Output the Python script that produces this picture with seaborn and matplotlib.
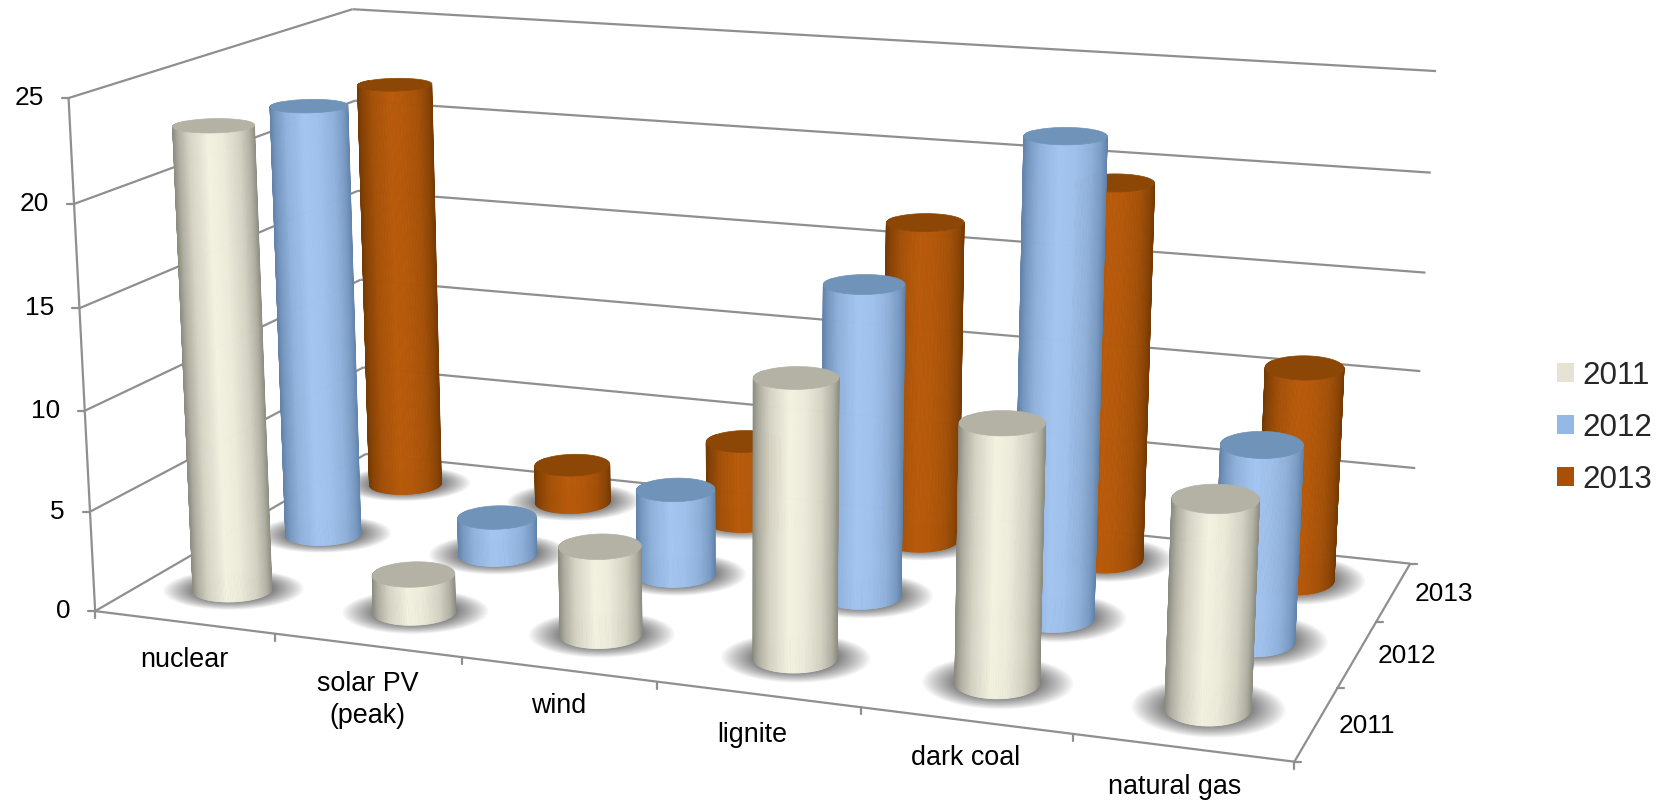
import numpy as np
import pandas as pd
import matplotlib
matplotlib.use("Agg")
import matplotlib.pyplot as plt
from matplotlib.collections import PolyCollection
from matplotlib.patches import Patch, Polygon
import seaborn as sns

categories = ["nuclear", "solar PV\n(peak)", "wind", "lignite", "dark coal", "natural gas"]
years = ["2011", "2012", "2013"]
values_2011 = [23.1, 1.9, 4.35, 13.4, 12.2, 9.7]
values_2012 = [22.4, 1.95, 4.4, 15.6, 23.4, 9.55]
values_2013 = [21.9, 2.05, 4.3, 16.65, 19.35, 10.85]
z_ticks = [0, 5, 10, 15, 20, 25]

capacity = pd.DataFrame({"2011": values_2011, "2012": values_2012, "2013": values_2013},
                        index=categories)

sns.set_theme(style="white")
plt.rcParams["font.family"] = ["Liberation Sans", "DejaVu Sans"]

light = sns.color_palette(["#f3f1e0", "#a3c5f0", "#b85a0a"])
dark = sns.color_palette(["#85857a", "#5e7ea5", "#6f3803"])
caps = sns.color_palette(["#b4b2a5", "#7093b9", "#8c4706"])
swatches = sns.color_palette(["#e6e3d5", "#95b9e6", "#aa5006"])
GRID = "#8f8f8f"

# Camera: box corners and tick positions on the canvas, solved into a 3x4 projection.
camera_world = np.array([
    (0, 0, 0), (0, 0, 5), (0, 0, 10), (0, 0, 15), (0, 0, 20), (0, 0, 25),
    (1, 0, 0), (2, 0, 0), (3, 0, 0), (4, 0, 0), (5, 0, 0), (6, 0, 0),
    (6, 1, 0), (6, 2, 0), (6, 3, 0),
    (6, 3, 5), (6, 3, 10), (6, 3, 15), (6, 3, 20), (6, 3, 25),
    (0, 3, 0), (0, 3, 25)], float)
camera_canvas = np.array([
    (96, 611), (90, 511), (84, 410), (80, 308), (74, 204), (69, 98),
    (275, 635), (462, 657), (657, 683), (860, 708), (1072, 735), (1295, 760),
    (1338, 687), (1376, 622), (1410, 563),
    (1415, 468), (1421, 372), (1425, 273), (1431, 173), (1436, 71),
    (366, 454), (352, 9)], float)


def solve_camera(world, canvas):
    rows, rhs = [], []
    for (x, y, z), (u, v) in zip(world, canvas):
        rows.append([x, y, z, 1, 0, 0, 0, 0, -u * x, -u * y, -u * z])
        rows.append([0, 0, 0, 0, x, y, z, 1, -v * x, -v * y, -v * z])
        rhs += [u, v]
    sol = np.linalg.lstsq(np.array(rows), np.array(rhs), rcond=None)[0]
    return np.append(sol, 1).reshape(3, 4)


P = solve_camera(camera_world, camera_canvas)


def project(x, y, z):
    x, y, z = np.broadcast_arrays(x, y, z)
    h = P @ np.stack([x, y, z, np.ones_like(x, dtype=float)])
    return np.stack([h[0] / h[2], h[1] / h[2]], axis=-1)


fig = plt.figure(figsize=(16.62, 8.01), dpi=100, facecolor="white")
ax = fig.add_axes([0, 0, 1, 1])
ax.set_xlim(0, 1662)
ax.set_ylim(801, 0)
ax.axis("off")


def seg(a, b, lw=1.6, z=1):
    pts = project(np.array([a[0], b[0]], float), np.array([a[1], b[1]], float),
                  np.array([a[2], b[2]], float))
    ax.plot(pts[:, 0], pts[:, 1], color=GRID, lw=lw, zorder=z, solid_capstyle="butt")
    return pts


# Walls
for v in z_ticks:
    seg((0, 0, v), (0, 3, v))
    seg((0, 3, v), (6, 3, v))
    p = project(0.0, 0.0, float(v))
    ax.plot([p[0] - 7, p[0]], [p[1], p[1]], color=GRID, lw=1.6, zorder=1)
    ax.annotate(str(v), p, xytext=(-18, 0), textcoords="offset points",
                ha="right", va="center", fontsize=18.9, color="black")
seg((0, 0, 0), (0, 0, 25))
seg((0, 0, 0), (6, 0, 0))
seg((6, 0, 0), (6, 3, 0))

# Category ticks and labels along the front edge; labels sit a little off the tick midpoints
label_shift = [(0, 4), (0, 5), (0, 3), (-6, 7), (0, 4), (-8, 6)]
for i in range(len(categories) + 1):
    p = project(float(i), 0.0, 0.0)
    ax.plot([p[0], p[0]], [p[1], p[1] + 7], color=GRID, lw=1.6, zorder=1)
for i, name in enumerate(categories):
    p = project(i + 0.5, 0.0, 0.0)
    dx, dy = label_shift[i]
    ax.annotate(name, p, xytext=(dx * 0.72, -15 - dy * 0.72), textcoords="offset points",
                ha="center", va="top", fontsize=19.4, color="black", linespacing=1.3)

# Year ticks and labels along the right edge
for j in range(len(years) + 1):
    p = project(6.0, float(j), 0.0)
    ax.plot([p[0], p[0] + 7], [p[1], p[1]], color=GRID, lw=1.6, zorder=1)
for j, name in enumerate(years):
    p = project(6.0, j + 0.5, 0.0)
    ax.annotate(name, p, xytext=(36, -1.5), textcoords="offset points",
                ha="center", va="center", fontsize=18.9, color="black")

# Cylinder radii per column, in category units and as a factor on the level depth radius
column_radius = [0.2, 0.203, 0.198, 0.198, 0.195, 0.193]
depth_factor = [1.16, 1.14, 1.1, 1.04, 1.0, 0.95]
DEPTH_SHIFT = 0.03
column_shift = [-0.02, -0.005, -0.005, -0.005, -0.005, -0.005]
angles = np.linspace(np.pi - 0.35, 2 * np.pi + 0.35, 91)
circle = np.linspace(0, 2 * np.pi, 121)
shade_t = [0, 0.07, 0.2, 0.42, 0.6, 0.8, 0.93, 1]
shade_v = [0.05, 0.38, 0.72, 1.0, 0.94, 0.72, 0.4, 0.05]


def level_radius(cx, cy, rx, factor):
    # Depth radius that keeps the floor ellipse close to level on the canvas at this spot
    o = project(cx, cy, 0.0)
    ex = project(cx + 0.05, cy, 0.0) - o
    ey = project(cx, cy + 0.05, 0.0) - o
    return factor * rx * np.sqrt(abs(ex[0] * ex[1]) / abs(ey[0] * ey[1]))


def draw_shadow(cx, cy, rx, factor):
    # Soft contact shadow built from stacked translucent rings on the floor
    ry = level_radius(cx, cy, rx, factor)
    for f in np.linspace(1, 0, 26) ** 1.4:
        sx = 0.95 + 0.85 * f
        sy = 0.95 + 0.72 * f
        pts = project(cx + rx * sx * np.cos(circle), cy + 0.01 + ry * sy * np.sin(circle), 0.0)
        ax.add_patch(Polygon(pts, closed=True, fc="#333333", ec="none", alpha=0.04, zorder=2))


def draw_cylinder(cx, cy, value, rx, factor, idx, order):
    ry = level_radius(cx, cy, rx, factor)
    xs = cx + rx * np.cos(angles)
    ys = cy + ry * np.sin(angles)
    top = project(xs, ys, float(value))
    bot = project(xs, ys, 0.0)
    tc = project(cx + rx * np.cos(circle), cy + ry * np.sin(circle), float(value))
    bc = project(cx + rx * np.cos(circle), cy + ry * np.sin(circle), 0.0)
    t_top = (top[:, 0] - tc[:, 0].min()) / np.ptp(tc[:, 0])
    t_bot = (bot[:, 0] - bc[:, 0].min()) / np.ptp(bc[:, 0])
    t = np.clip((t_top + t_bot) / 2, 0, 1)
    polys, cols = [], []
    mid = 1.5 * np.pi
    lo, hi = np.array(dark[idx]), np.array(light[idx])
    sequence = sorted(range(len(angles) - 1), key=lambda k: -abs(angles[k] - mid))
    for k in sequence:
        polys.append([top[k], top[k + 1], bot[k + 1], bot[k]])
        v = np.interp((t[k] + t[k + 1]) / 2, shade_t, shade_v)
        cols.append(lo + (hi - lo) * v)
    ax.add_collection(PolyCollection(polys, facecolors=cols, edgecolors=cols, linewidths=0.6,
                                     zorder=order))
    ax.add_patch(Polygon(tc, closed=True, fc=caps[idx], ec=caps[idx], lw=0.5, zorder=order + 0.1))


for j in range(len(years)):
    for i in range(len(categories)):
        draw_shadow(i + 0.5 + column_shift[i], j + 0.5 + DEPTH_SHIFT,
                    column_radius[i], depth_factor[i])

for j in reversed(range(len(years))):
    for i, name in enumerate(capacity.index):
        draw_cylinder(i + 0.5 + column_shift[i], j + 0.5 + DEPTH_SHIFT,
                      capacity.loc[name, years[j]], column_radius[i], depth_factor[i],
                      j, 5 + (2 - j) * 2)

handles = [Patch(facecolor=swatches[k], edgecolor="none", label=years[k]) for k in range(3)]
ax.legend(handles=handles, loc="center left", bbox_to_anchor=(1557, 428),
          bbox_transform=ax.transData, frameon=False, fontsize=22.6, borderpad=0,
          borderaxespad=0, handlelength=0.55, handleheight=0.55, handletextpad=0.26,
          labelspacing=0.7)

fig.savefig("out.png", dpi=100, facecolor="white")
